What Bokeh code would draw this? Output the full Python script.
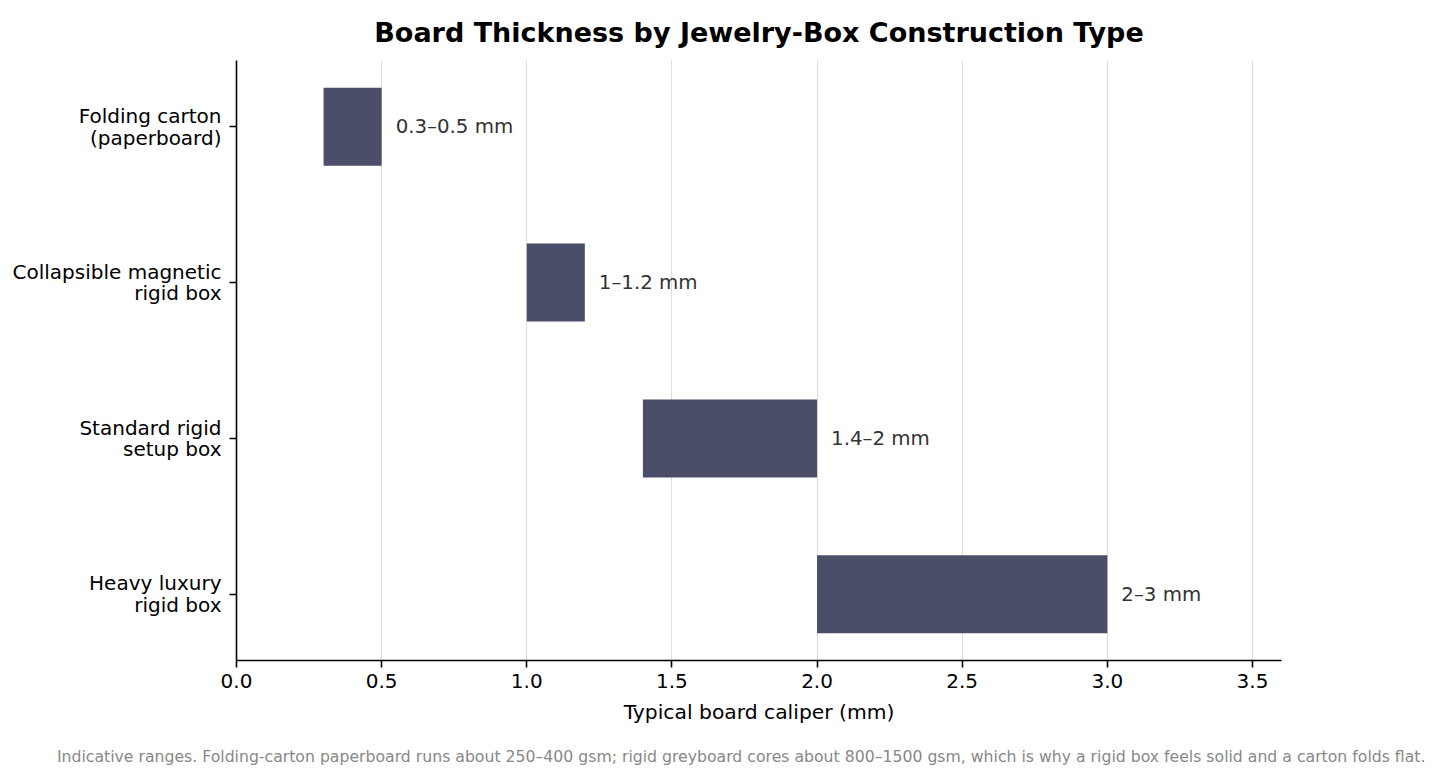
from bokeh.plotting import figure
from bokeh.models import Range1d, FixedTicker, Title, ColumnDataSource
from bokeh.core.properties import value
from bokeh.embed import file_html
from bokeh.resources import INLINE

# ---- data ----
categories = ["Folding carton\n(paperboard)", "Collapsible magnetic\nrigid box",
              "Standard rigid\nsetup box", "Heavy luxury\nrigid box"]
low_mm = [0.3, 1.0, 1.4, 2.0]
high_mm = [0.5, 1.2, 2.0, 3.0]
range_labels = ["0.3–0.5 mm", "1–1.2 mm", "1.4–2 mm", "2–3 mm"]
x_ticks = [0.0, 0.5, 1.0, 1.5, 2.0, 2.5, 3.0, 3.5]
title_text = "Board Thickness by Jewelry-Box Construction Type"
x_label = "Typical board caliper (mm)"
footnote = ("Indicative ranges. Folding-carton paperboard runs about 250–400 gsm; rigid greyboard "
            "cores about 800–1500 gsm, which is why a rigid box feels solid and a carton folds flat.")

FONT = "DejaVu Sans"
pos = list(range(len(categories)))

src = ColumnDataSource(dict(y=pos, left=low_mm, right=high_mm, lab=range_labels))

p = figure(frame_width=1045, frame_height=600,
           min_border_left=236, min_border_right=148,
           min_border_top=60, min_border_bottom=118,
           x_range=Range1d(0, 3.6), y_range=Range1d(3.4245, -0.4245),
           output_backend="svg", toolbar_location=None,
           background_fill_color="white", border_fill_color="white")
p.outline_line_color = None

p.hbar(y="y", left="left", right="right", height=0.5, source=src,
       fill_color="#4a4e69", line_color=None)

p.text(x="right", y="y", text="lab", source=src, x_offset=14,
       text_baseline="middle", text_align="left",
       text_font=value(FONT), text_font_size="19.8px", text_color="#333333")

# axes
p.xaxis.ticker = FixedTicker(ticks=x_ticks)
p.xaxis.major_label_overrides = {t: f"{t:.1f}" for t in x_ticks}
p.yaxis.ticker = FixedTicker(ticks=pos)
p.yaxis.major_label_overrides = {i: c for i, c in zip(pos, categories)}
for ax in (p.xaxis[0], p.yaxis[0]):
    ax.axis_line_color = "black"
    ax.axis_line_width = 1.6
    ax.major_tick_line_color = "black"
    ax.major_tick_line_width = 1.6
    ax.major_tick_out = 7
    ax.major_tick_in = 0
    ax.minor_tick_line_color = None
    ax.major_label_text_font = FONT
    ax.major_label_text_font_size = "20px"
    ax.major_label_text_color = "black"
    ax.major_label_standoff = 6
p.yaxis.major_label_standoff = 8
p.yaxis.major_label_text_line_height = 0.91
p.xaxis.axis_label = x_label
p.xaxis.axis_label_text_font = FONT
p.xaxis.axis_label_text_font_size = "20.3px"
p.xaxis.axis_label_text_font_style = "normal"
p.xaxis.axis_label_text_color = "black"
p.xaxis.axis_label_standoff = 9

p.xgrid.grid_line_color = "#dddddd"
p.xgrid.grid_line_width = 1
p.xgrid.ticker = FixedTicker(ticks=x_ticks)
p.ygrid.grid_line_color = None

t = Title(text=title_text, align="center", vertical_align="top",
          text_font=FONT, text_font_size="27px",
          text_font_style="bold", text_color="black", standoff=22)
p.add_layout(t, "above")

fn = Title(text=footnote, align="right", offset=-144, standoff=37, text_font=FONT,
           text_font_size="15.7px", text_font_style="normal", text_color="#888888")
p.add_layout(fn, "below")

open("out.html", "w").write(file_html(p, INLINE))
